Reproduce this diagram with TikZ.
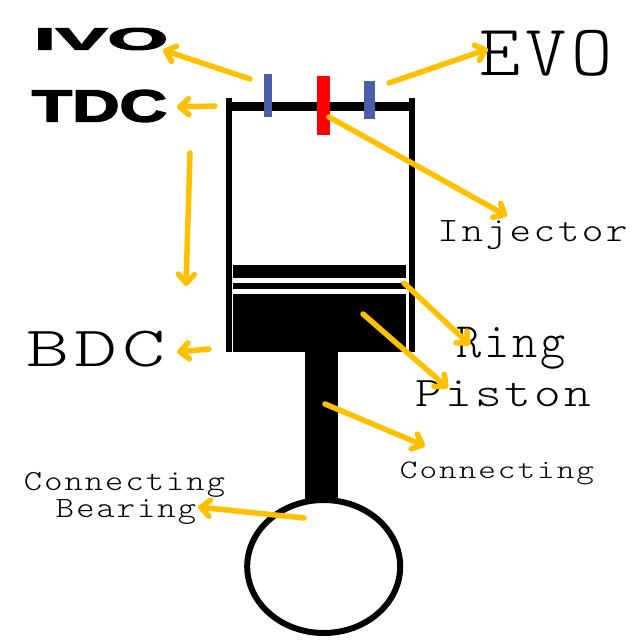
\documentclass[tikz,border=0pt]{standalone}
\usepackage{fontspec}
\usepackage{graphicx}
\usetikzlibrary{arrows.meta}
\newfontfamily\heavyfont[FakeBold=3]{Liberation Sans Bold}
\newfontfamily\thinmono[LetterSpace=6]{Latin Modern Mono Light}
\definecolor{gold}{HTML}{FFC000}
\definecolor{valveblue}{HTML}{4A5FA8}
\definecolor{valvered}{HTML}{FF0000}
\newcommand\fitbox[3]{\resizebox*{#1pt}{#2pt}{#3}}
\tikzset{
  lbl/.style={inner sep=0pt,outer sep=0pt,font=\thinmono,anchor=center},
  heavy/.style={inner sep=0pt,outer sep=0pt,font=\heavyfont,anchor=center},
  solid block/.style={fill=black,draw=none},
  pointer/.style={draw=gold,line width=5.5pt,line cap=round,line join=round,
    -{Straight Barb[length=9pt,width=16pt,line width=5.5pt,round]}},
}
\begin{document}
\begin{tikzpicture}[x=1pt,y=-1pt]
\useasboundingbox (0,0) rectangle (640,640);
\fill[white] (0,0) rectangle (640,640);
% cylinder
\fill[solid block] (225.5,98) rectangle (231.5,352);
\fill[solid block] (408.5,98) rectangle (414.5,352);
\fill[solid block] (225.5,101.5) rectangle (414.5,111);
% piston
\fill[solid block] (233,265) rectangle (406,278);
\fill[solid block] (233,283) rectangle (406,289);
\fill[solid block] (233,294) rectangle (406,352);
\fill[solid block] (305,352) rectangle (338,502);
% bearing
\draw[black,line width=6pt,fill=white] (323.7,566.5) ellipse [x radius=76.5,y radius=66.5];
% valves
\fill[valveblue] (263.5,74) rectangle (272.3,117);
\fill[valvered] (317,75.5) rectangle (329.7,134.7);
\fill[valveblue] (364,81) rectangle (374.7,119);
% labels
\node[heavy] (ivo) at (101,39) {\fitbox{134}{22}{IVO}};
\node[heavy] (tdc) at (99.5,106) {\fitbox{135}{32}{TDC}};
\node[lbl] (evo) at (546.5,53.5) {\fitbox{133}{46}{EVO}};
\node[lbl] (bdc) at (96.5,349) {\fitbox{139}{36}{BDC}};
\node[lbl] (inj) at (532.5,235) {\fitbox{190}{29}{Injector}};
\node[lbl] (ring) at (511.5,348) {\fitbox{109}{42}{Ring}};
\node[lbl] (pis) at (503.5,394) {\fitbox{175}{26}{Piston}};
\node[lbl] (con) at (497,473.5) {\fitbox{194}{23}{Connecting}};
\node[lbl] (con2) at (124.5,485) {\fitbox{201}{25}{Connecting}};
\node[lbl] (bea) at (126,512) {\fitbox{140}{25}{Bearing}};
% connectors
\coordinate (a1) at (250,79);   \coordinate (b1) at (163,50);
\coordinate (a2) at (215,106);  \coordinate (b2) at (177,107);
\coordinate (a3) at (190,153);  \coordinate (b3) at (186,286);
\coordinate (a4) at (389,83);   \coordinate (b4) at (488,49);
\coordinate (a5) at (329,117);  \coordinate (b5) at (507,216);
\coordinate (a6) at (404,283);  \coordinate (b6) at (470,345);
\coordinate (a7) at (363,314);  \coordinate (b7) at (448,388);
\coordinate (a8) at (325,404);  \coordinate (b8) at (425,446);
\coordinate (a9) at (304,518);  \coordinate (b9) at (198,507);
\coordinate (a10) at (209,349); \coordinate (b10) at (177,352);
\foreach \i in {1,...,10} \draw[pointer] (a\i) -- (b\i);
\end{tikzpicture}
\end{document}
